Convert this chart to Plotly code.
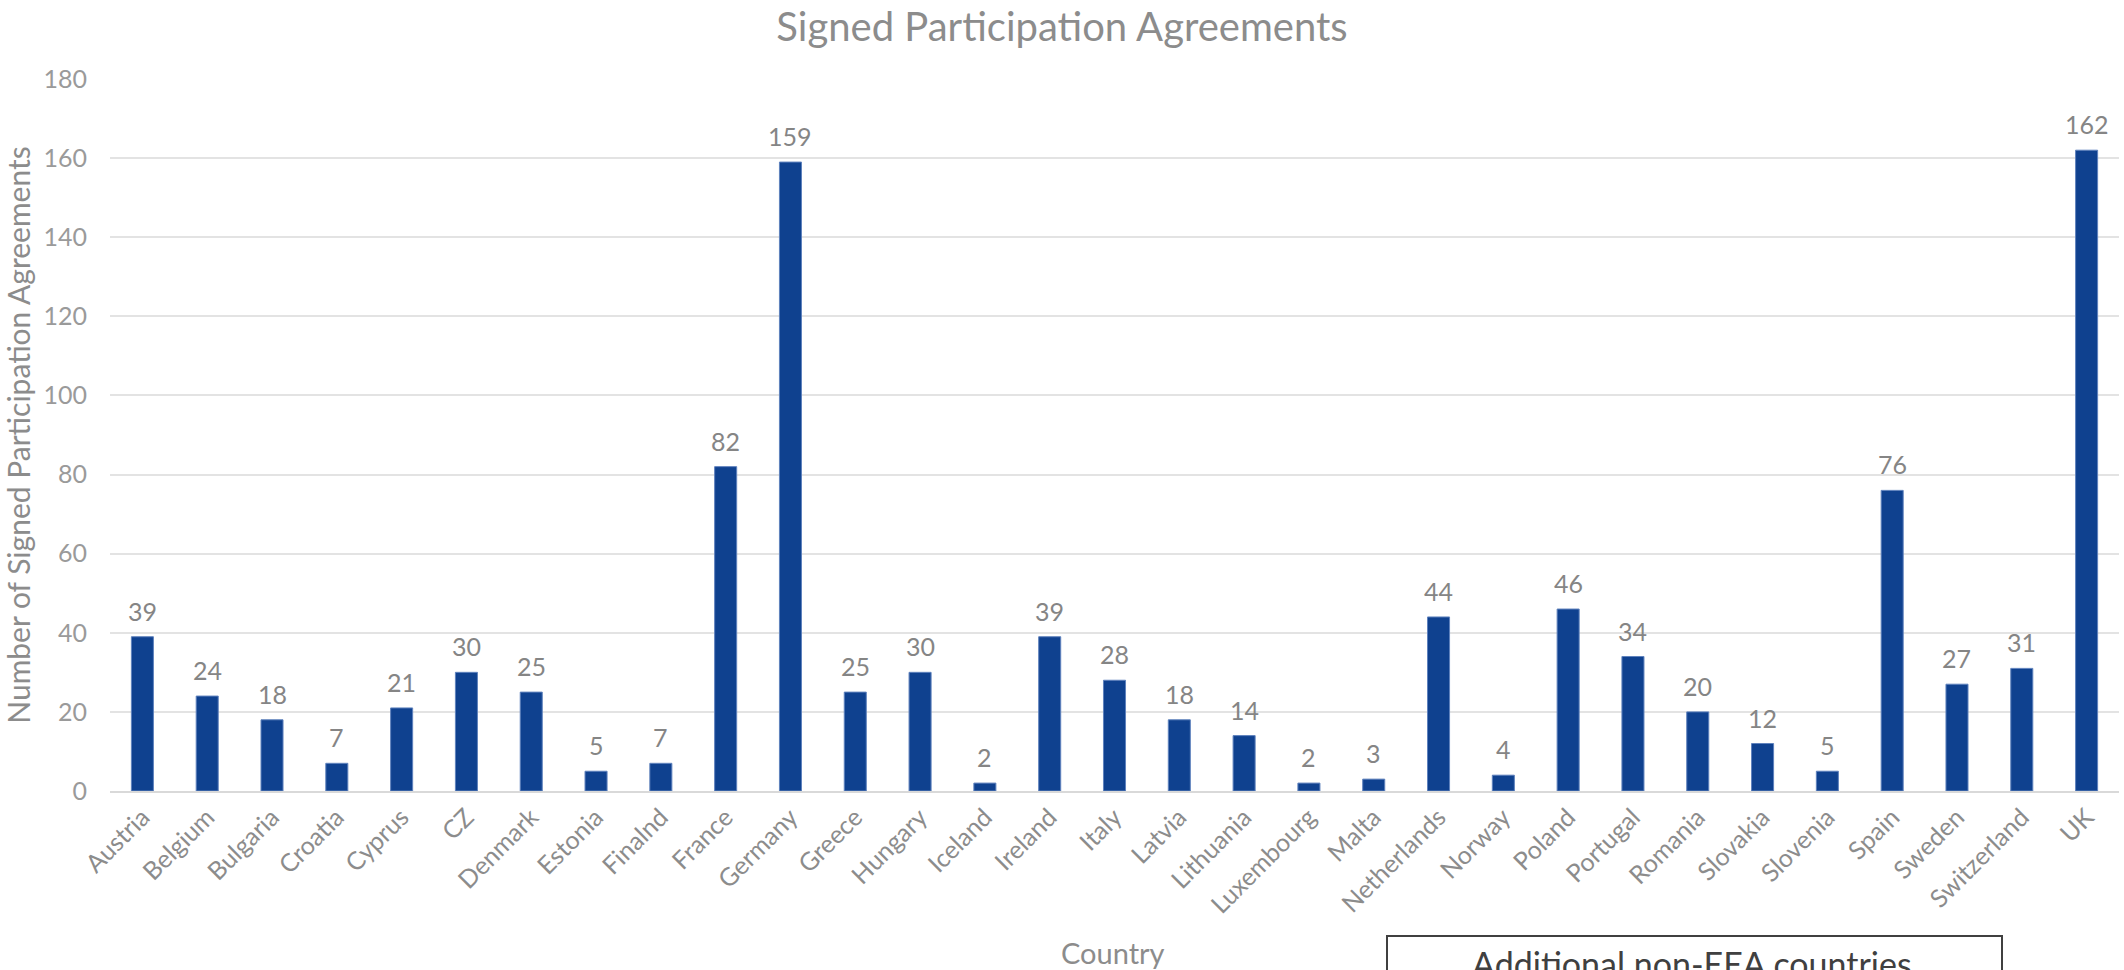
import plotly.graph_objects as go

countries = ["Austria", "Belgium", "Bulgaria", "Croatia", "Cyprus", "CZ", "Denmark", "Estonia",
             "Finalnd", "France", "Germany", "Greece", "Hungary", "Iceland", "Ireland", "Italy",
             "Latvia", "Lithuania", "Luxembourg", "Malta", "Netherlands", "Norway", "Poland",
             "Portugal", "Romania", "Slovakia", "Slovenia", "Spain", "Sweden", "Switzerland", "UK"]
agreements = [39, 24, 18, 7, 21, 30, 25, 5, 7, 82, 159, 25, 30, 2, 39, 28, 18, 14, 2, 3, 44, 4,
              46, 34, 20, 12, 5, 76, 27, 31, 162]
y_ticks = [0, 20, 40, 60, 80, 100, 120, 140, 160, 180]

FONT = "Lato"
GREY = "#8c8c8c"
W, H = 2124, 970
ML, MR, MT, MB = 110, 5, 79, 179

fig = go.Figure()
fig.add_trace(go.Bar(
    x=countries, y=agreements,
    marker=dict(color="#0f418f", line=dict(color="#5f82bd", width=1)),
    hoverinfo="skip",
))

# value labels above the bars
for c, v in zip(countries, agreements):
    fig.add_annotation(x=c, y=v, text=str(v), showarrow=False, xanchor="center",
                       yanchor="bottom", yshift=9,
                       font=dict(family=FONT, size=25, color="#858585"))

fig.update_layout(
    width=W, height=H,
    margin=dict(l=ML, r=MR, t=MT, b=MB),
    plot_bgcolor="white", paper_bgcolor="white",
    bargap=0.66,
    showlegend=False,
    title=dict(text="Signed Participation Agreements", x=0.5, xanchor="center",
               y=1 - 27 / H, yanchor="middle",
               font=dict(family=FONT, size=40, color=GREY)),
    font=dict(family=FONT, color=GREY),
    xaxis=dict(tickangle=-45, tickfont=dict(family=FONT, size=25, color=GREY),
               showgrid=False, showline=True, linecolor="#d9d9d9", linewidth=1.5,
               ticks="", automargin=False),
    yaxis=dict(range=[0, 180], tickvals=y_ticks, showgrid=True, gridcolor="#e3e3e3",
               gridwidth=1.5, zeroline=False, ticks="", ticklabelstandoff=22,
               tickfont=dict(family=FONT, size=25, color="#9a9a9a"),
               title=dict(text="Number of Signed Participation Agreements",
                          font=dict(family=FONT, size=30, color=GREY), standoff=4),
               automargin=False),
)

px_w = W - ML - MR
px_h = H - MT - MB
def px(xp):
    return (xp - ML) / px_w
def py(yp):
    return (H - MB - yp) / px_h

fig.add_annotation(text="Country", xref="paper", yref="paper",
                   x=px(1113), y=py(952), xanchor="center", yanchor="middle", showarrow=False,
                   font=dict(family=FONT, size=29, color=GREY))

# boxed note at the bottom (partly cut off by the page edge, as in the original)
fig.add_shape(type="rect", xref="paper", yref="paper",
              x0=px(1387), x1=px(2002), y0=py(1000), y1=py(936),
              line=dict(color="#404040", width=2), fillcolor="rgba(0,0,0,0)")
fig.add_annotation(text="Additional non-EEA countries", xref="paper", yref="paper",
                   x=px(1692), y=py(941), xanchor="center", yanchor="top", showarrow=False,
                   font=dict(family=FONT, size=34, color="#404040"))

fig.write_html("out.html", config={"displayModeBar": False},
               post_script="document.body.style.margin='0';document.body.style.overflow='hidden';")
